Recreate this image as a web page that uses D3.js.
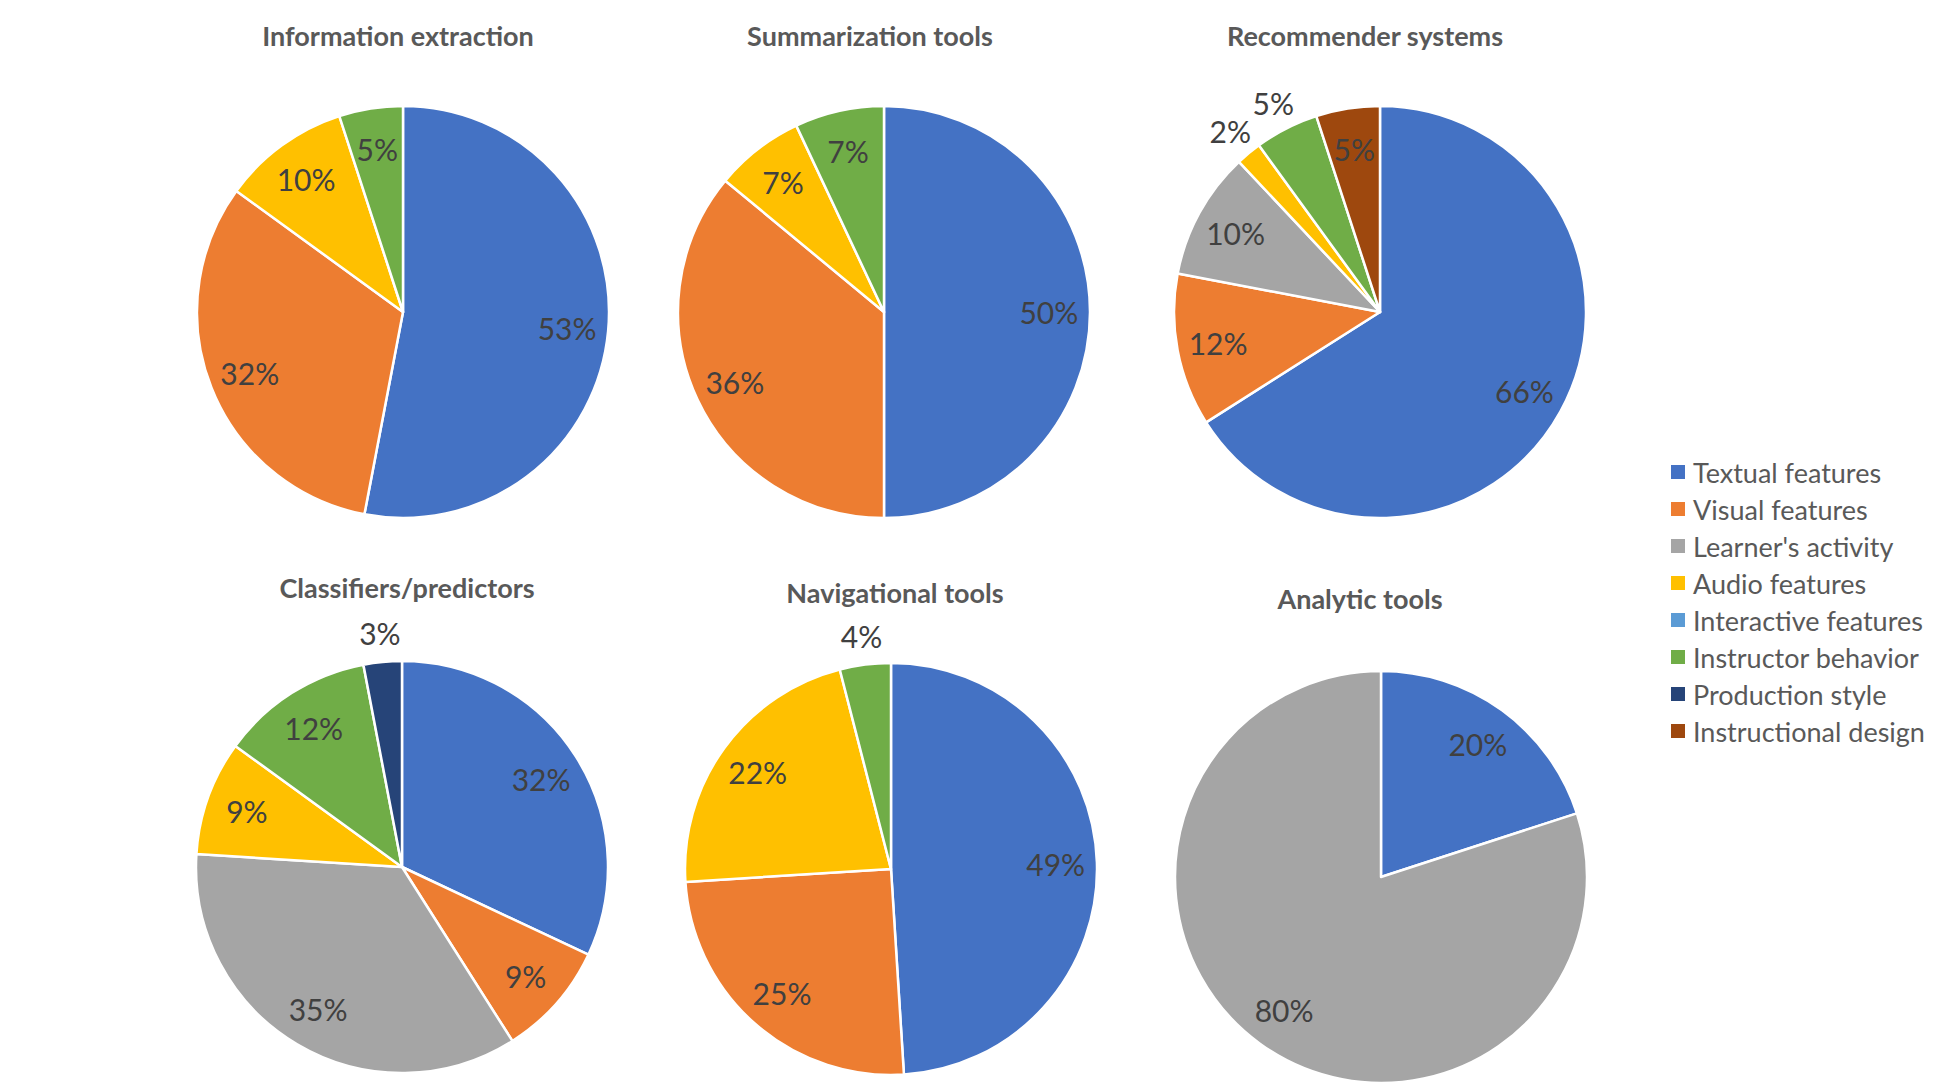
<!DOCTYPE html>
<html>
<head>
<meta charset="utf-8">
<script src="https://cdn.jsdelivr.net/npm/d3@7"></script>
<style>
  html, body { margin: 0; padding: 0; background: #fff; }
  svg { display: block; font-family: Lato, "Open Sans", sans-serif; }
</style>
</head>
<body>
<svg width="1933" height="1085"></svg>
<script>
let categories = ['Textual features', 'Visual features', "Learner's activity", 'Audio features',
  'Interactive features', 'Instructor behavior', 'Production style', 'Instructional design'];
let colors = ['#4472C4', '#ED7D31', '#A5A5A5', '#FFC000', '#5B9BD5', '#70AD47', '#264478', '#9E480E'];

let titles = ['Information extraction', 'Summarization tools', 'Recommender systems',
  'Classifiers/predictors', 'Navigational tools', 'Analytic tools'];

// percent per category, same order as categories
let infoExtraction = [53, 32, 0, 10, 0, 5, 0, 0];
let summarization  = [50, 36, 0, 7, 0, 7, 0, 0];
let recommender    = [66, 12, 10, 2, 0, 5, 0, 5];
let classifiers    = [32, 9, 35, 9, 0, 12, 3, 0];
let navigational   = [49, 25, 0, 22, 0, 4, 0, 0];
let analytic       = [20, 0, 80, 0, 0, 0, 0, 0];

let series = [infoExtraction, summarization, recommender, classifiers, navigational, analytic];

let width = 1933, height = 1085, radius = 206;
let centers = [[403, 312], [884, 312], [1380, 312], [402, 867], [891, 869], [1381, 877]];
let titlePos = [[398, 35], [870, 35], [1365, 35], [407, 587], [895, 592], [1360, 598]];

let svg = d3.select('svg');

let pie = d3.pie().sort(null).value(function(d) { return d.value; });
let arc = d3.arc().innerRadius(0).outerRadius(radius);
let inLabel = d3.arc().innerRadius(radius * 0.8).outerRadius(radius * 0.8);
let outLabel = d3.arc().innerRadius(radius + 29).outerRadius(radius + 29);

function drawPie(values, i) {
  let items = values.map(function(v, k) { return { value: v, cat: k }; })
    .filter(function(d) { return d.value > 0; });
  let arcs = pie(items);

  let g = svg.append('g')
    .attr('transform', 'translate(' + centers[i][0] + ',' + centers[i][1] + ')');

  g.selectAll('path')
    .data(arcs)
    .join('path')
    .attr('d', arc)
    .attr('fill', function(d) { return colors[d.data.cat]; })
    .attr('stroke', '#fff')
    .attr('stroke-width', 2.5)
    .attr('stroke-linejoin', 'round');

  // small slices go outside, like Excel's best fit
  arcs.forEach(function(d, k) {
    let prev = k > 0 ? arcs[k - 1].data.value : 100;
    d.outside = d.data.value < 5 || (d.data.value <= 5 && prev < 5);
  });

  g.selectAll('text.lbl')
    .data(arcs)
    .join('text')
    .attr('class', 'lbl')
    .attr('transform', function(d) {
      let p = d.outside ? outLabel.centroid(d) : inLabel.centroid(d);
      return 'translate(' + p[0] + ',' + p[1] + ')';
    })
    .attr('text-anchor', 'middle')
    .attr('dominant-baseline', 'central')
    .attr('font-size', 30)
    .attr('fill', '#404040')
    .text(function(d) { return d.data.value + '%'; });

  svg.append('text')
    .attr('x', titlePos[i][0])
    .attr('y', titlePos[i][1])
    .attr('text-anchor', 'middle')
    .attr('dominant-baseline', 'central')
    .attr('font-size', 27)
    .attr('font-weight', 'bold')
    .attr('fill', '#595959')
    .text(titles[i]);
}

series.forEach(drawPie);

let legend = svg.append('g').attr('transform', 'translate(1671,472)');
let rows = legend.selectAll('g')
  .data(categories)
  .join('g')
  .attr('transform', function(d, i) { return 'translate(0,' + (i * 37) + ')'; });

rows.append('rect')
  .attr('x', 0).attr('y', -7)
  .attr('width', 14).attr('height', 14)
  .attr('fill', function(d, i) { return colors[i]; });

rows.append('text')
  .attr('x', 22)
  .attr('dominant-baseline', 'central')
  .attr('font-size', 27)
  .attr('fill', '#595959')
  .text(function(d) { return d; });
</script>
</body>
</html>
